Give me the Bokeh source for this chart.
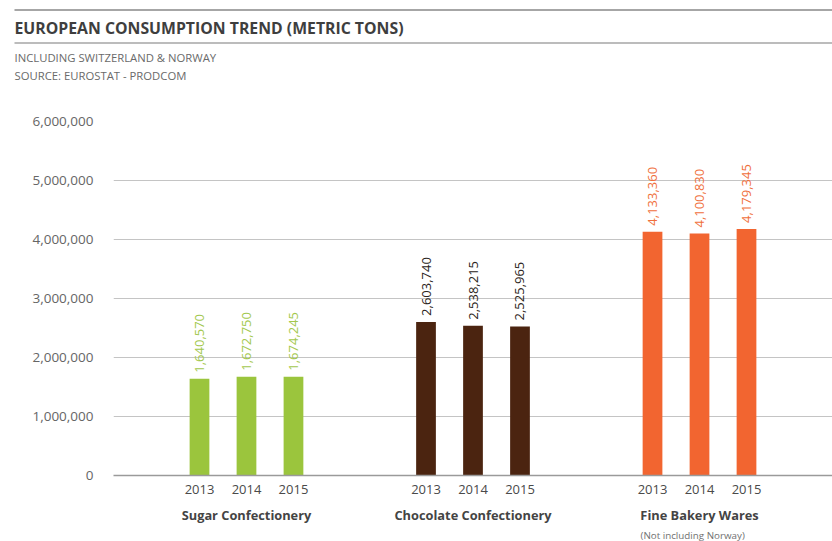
import math

from bokeh.core.properties import value
from bokeh.embed import file_html
from bokeh.layouts import column
from bokeh.models import (ColumnDataSource, FactorRange, FixedTicker,
                          NumeralTickFormatter, Range1d, Title)
from bokeh.plotting import figure
from bokeh.resources import INLINE

# ---- data -------------------------------------------------------------
title_text = "EUROPEAN CONSUMPTION TREND (METRIC TONS)"
subtitle_lines = ["INCLUDING SWITZERLAND & NORWAY", "SOURCE: EUROSTAT - PRODCOM"]

categories = ["Sugar Confectionery", "Chocolate Confectionery", "Fine Bakery Wares"]
years = ["2013", "2014", "2015"]

sugar_confectionery = [1640570, 1672750, 1674245]
chocolate_confectionery = [2603740, 2538215, 2525965]
fine_bakery_wares = [4133360, 4100830, 4179345]

bakery_note = "(Not including Norway)"
y_ticks = [0, 1000000, 2000000, 3000000, 4000000, 5000000, 6000000]

bar_colors = ["#9bc53d", "#4b2410", "#f26530"]
label_colors = ["#a3c84e", "#2b2420", "#f0703c"]

FONT = "Open Sans"
GROUP_PAD = 1.82
W = 832


def no_frame_align(fig):
    # keep each figure's frame where its own borders put it
    if "frame_align" in fig.properties():
        fig.frame_align = False


# ---- header -------------------------------------------------------------
head = figure(width=W, height=100, x_range=Range1d(0, W), y_range=Range1d(100, 0),
              toolbar_location=None, output_backend="svg", min_border=0)
no_frame_align(head)
head.axis.visible = False
head.grid.visible = False
head.outline_line_color = None

head.segment(x0=[14, 14], y0=[9.5, 42.5], x1=[W, W], y1=[9.5, 42.5],
             line_color="#a6a6a6", line_width=[2.2, 1.6])
head.text(x=[14], y=[27], text=[title_text], text_font=value(FONT),
          text_font_style="bold", text_font_size="15.8px", text_color="#3e3e3e",
          text_baseline="middle", text_align="left")
head.text(x=[14, 14], y=[57, 75], text=subtitle_lines, text_font=value(FONT),
          text_font_size="11.3px", text_color="#6a6a6a",
          text_baseline="middle", text_align="left")

# ---- bar chart -----------------------------------------------------------
series = [sugar_confectionery, chocolate_confectionery, fine_bakery_wares]
xs, tops, fills, lcols, texts = [], [], [], [], []
for ci, cat in enumerate(categories):
    for yi, yr in enumerate(years):
        v = series[ci][yi]
        xs.append((cat, yr))
        tops.append(v)
        fills.append(bar_colors[ci])
        lcols.append(label_colors[ci])
        texts.append(f"{v:,}")

src = ColumnDataSource(dict(x=xs, top=tops, fill=fills, lcol=lcols, label=texts))

x_range = FactorRange(*xs, group_padding=GROUP_PAD, range_padding=1.33,
                      range_padding_units="absolute")
p = figure(width=W, height=441, x_range=x_range, y_range=Range1d(0, 6000000),
           toolbar_location=None, output_backend="svg",
           min_border_top=21, min_border_left=113, min_border_right=0,
           min_border_bottom=65)
no_frame_align(p)
p.outline_line_color = None
p.xgrid.visible = False
p.ygrid.grid_line_color = "#c4c4c4"
p.ygrid.grid_line_width = 1.2

p.vbar(x="x", top="top", width=0.42, fill_color="fill", line_color=None, source=src)
p.text(x="x", y="top", text="label", angle=math.pi / 2, source=src,
       text_align="left", text_baseline="middle", y_offset=-6,
       text_color="lcol", text_font=value(FONT), text_font_size="13px")

yax = p.yaxis[0]
yax.ticker = FixedTicker(ticks=y_ticks)
yax.formatter = NumeralTickFormatter(format="0,0")
yax.axis_line_color = None
yax.major_tick_line_color = None
yax.minor_tick_line_color = None
yax.major_tick_out = 0
yax.major_label_standoff = 20
yax.major_label_text_font = FONT
yax.major_label_text_font_size = "13.5px"
yax.major_label_text_color = "#666666"

xax = p.xaxis[0]
xax.axis_line_color = "#9a9a9a"
xax.axis_line_width = 1.4
xax.major_tick_line_color = None
xax.minor_tick_line_color = None
xax.major_tick_out = 0
xax.major_label_standoff = 9
xax.major_label_text_font = FONT
xax.major_label_text_font_size = "13px"
xax.major_label_text_color = "#4a4a4a"
xax.group_text_font = FONT
xax.group_text_font_size = "12.8px"
xax.group_text_font_style = "bold"
xax.group_text_color = "#444444"
xax.separator_line_alpha = 0

# note under the bakery group, placed as a left-aligned title below the axis
note = Title(text=bakery_note, align="left", offset=527, standoff=0,
             text_font=FONT, text_font_size="9.8px", text_font_style="normal",
             text_color="#707070")
if "text_line_height" in note.properties():
    note.text_line_height = 0.9
p.add_layout(note, "below")

layout = column(head, p, spacing=0)
open("out.html", "w").write(file_html(layout, INLINE))
